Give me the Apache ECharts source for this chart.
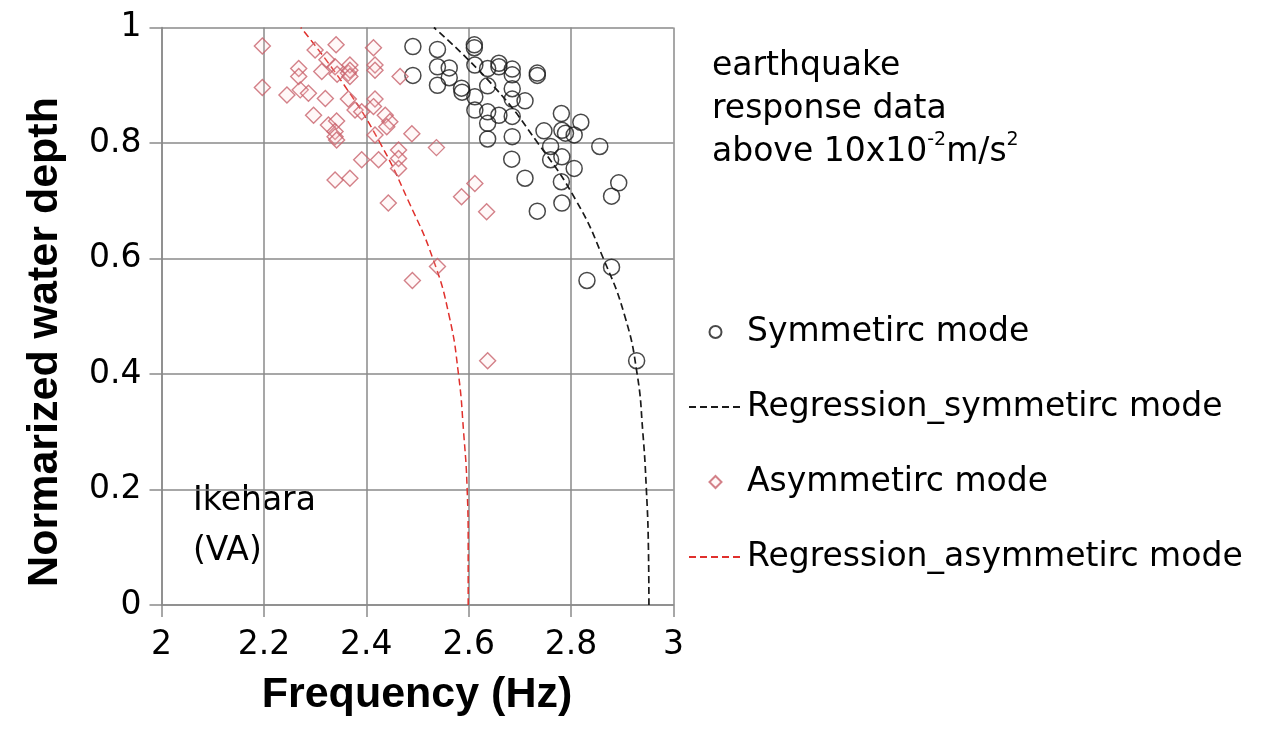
<!DOCTYPE html>
<html>
<head>
<meta charset="utf-8">
<title>Frequency vs normalized water depth</title>
<script src="https://cdn.jsdelivr.net/npm/echarts@6/dist/echarts.min.js"></script>
<style>
  html, body { margin: 0; padding: 0; background: #fff; }
  #chart { width: 1264px; height: 732px; }
</style>
</head>
<body>
<div id="chart"></div>
<script>
// 対称モード (frequency Hz, normalized depth)
const symmetricPoints = [
  [2.491, 0.967], [2.491, 0.917], [2.539, 0.962], [2.611, 0.970], [2.611, 0.965],
  [2.539, 0.932], [2.562, 0.930], [2.539, 0.900], [2.562, 0.913], [2.612, 0.935],
  [2.637, 0.929], [2.659, 0.938], [2.659, 0.932], [2.685, 0.928], [2.685, 0.918],
  [2.734, 0.921], [2.734, 0.917], [2.586, 0.895], [2.587, 0.888], [2.637, 0.899],
  [2.685, 0.894], [2.612, 0.880], [2.685, 0.876], [2.710, 0.873], [2.612, 0.857],
  [2.637, 0.854], [2.659, 0.848], [2.685, 0.846], [2.637, 0.834], [2.637, 0.807],
  [2.685, 0.811], [2.781, 0.851], [2.819, 0.836], [2.747, 0.821], [2.782, 0.822],
  [2.789, 0.817], [2.806, 0.814], [2.856, 0.794], [2.760, 0.794], [2.760, 0.771],
  [2.684, 0.772], [2.782, 0.776], [2.806, 0.756], [2.710, 0.739], [2.781, 0.733],
  [2.893, 0.731], [2.879, 0.708], [2.782, 0.696], [2.734, 0.682], [2.879, 0.585],
  [2.831, 0.562], [2.928, 0.423]
];

// 非対称モード
const asymmetricPoints = [
  [2.197, 0.968], [2.197, 0.896], [2.245, 0.883], [2.268, 0.929], [2.268, 0.915],
  [2.271, 0.892], [2.287, 0.886], [2.300, 0.961], [2.313, 0.924], [2.323, 0.944],
  [2.341, 0.970], [2.339, 0.932], [2.343, 0.919], [2.365, 0.921], [2.368, 0.935],
  [2.368, 0.926], [2.368, 0.915], [2.414, 0.965], [2.417, 0.935], [2.417, 0.926],
  [2.466, 0.915], [2.320, 0.877], [2.365, 0.876], [2.417, 0.876], [2.297, 0.848],
  [2.326, 0.831], [2.342, 0.838], [2.339, 0.820], [2.339, 0.811], [2.342, 0.805],
  [2.378, 0.857], [2.391, 0.854], [2.414, 0.863], [2.437, 0.848], [2.446, 0.837],
  [2.440, 0.828], [2.417, 0.814], [2.489, 0.816], [2.391, 0.771], [2.424, 0.771],
  [2.463, 0.788], [2.463, 0.773], [2.463, 0.756], [2.537, 0.792], [2.339, 0.736],
  [2.368, 0.739], [2.443, 0.696], [2.612, 0.730], [2.586, 0.707], [2.635, 0.681],
  [2.539, 0.586], [2.490, 0.562], [2.637, 0.423]
];

// 回帰曲線 (図から読み取り, y = 0, 0.1, ... 1)
const symRegression = [
  [2.952, 0.0], [2.951, 0.1], [2.947, 0.2], [2.940, 0.3], [2.929, 0.4],
  [2.905, 0.5], [2.863, 0.6], [2.810, 0.7], [2.735, 0.8], [2.647, 0.9],
  [2.532, 1.0]
];
const asymRegression = [
  [2.599, 0.0], [2.599, 0.1], [2.597, 0.2], [2.590, 0.3], [2.580, 0.4],
  [2.562, 0.5], [2.530, 0.6], [2.482, 0.7], [2.427, 0.8], [2.357, 0.9],
  [2.272, 1.0]
];

const seriesNames = ['Symmetirc mode', 'Regression_symmetirc mode', 'Asymmetirc mode', 'Regression_asymmetirc mode'];

const FONT = '"DejaVu Sans", "Liberation Sans", sans-serif';
const BOLD_FONT = '"Liberation Sans", Arial, sans-serif';
const gridColor = '#8a8a8a';

const myChart = echarts.init(document.getElementById('chart'));

const option = {
  animation: false,
  backgroundColor: '#fff',
  grid: { left: 161.5, top: 27.5, width: 512, height: 577.5, containLabel: false },
  xAxis: {
    type: 'value', min: 2, max: 3, interval: 0.2,
    axisLine: { show: true, lineStyle: { color: gridColor, width: 1.5 } },
    axisTick: { show: true, length: 12, lineStyle: { color: gridColor, width: 1.5 } },
    splitLine: { show: true, lineStyle: { color: gridColor, width: 1.5 } },
    axisLabel: { color: '#000', fontSize: 33, fontFamily: FONT, margin: 24, showMinLabel: true, showMaxLabel: true }
  },
  yAxis: {
    type: 'value', min: 0, max: 1, interval: 0.2,
    axisLine: { show: true, lineStyle: { color: gridColor, width: 1.5 } },
    axisTick: { show: true, length: 12, lineStyle: { color: gridColor, width: 1.5 } },
    splitLine: { show: true, lineStyle: { color: gridColor, width: 1.5 } },
    axisLabel: { color: '#000', fontSize: 33, fontFamily: FONT, margin: 20, showMinLabel: true, showMaxLabel: true }
  },
  legend: {
    orient: 'vertical', left: 683, top: 307,
    itemWidth: 53, itemHeight: 12, itemGap: 35,
    selectedMode: false,
    textStyle: { color: '#000', fontSize: 33, fontFamily: FONT, lineHeight: 40 },
    data: [
      { name: seriesNames[0], icon: 'circle' },
      { name: seriesNames[1], itemStyle: { opacity: 0 } },
      { name: seriesNames[2], icon: 'path://M6,0L12,6L6,12L0,6Z' },
      { name: seriesNames[3], itemStyle: { opacity: 0 } }
    ]
  },
  graphic: [
    {
      type: 'text', left: 712, top: 45,
      style: {
        text: 'earthquake\nresponse data\n{a|above 10x10}{s|-2}{a|m/s}{s|2}',
        fill: '#000', font: '33px ' + FONT, lineHeight: 43,
        rich: {
          a: { fontSize: 33, fontFamily: FONT, lineHeight: 43 },
          s: { fontSize: 19, fontFamily: FONT, lineHeight: 43, verticalAlign: 'top' }
        }
      }
    },
    {
      type: 'text', left: 193, top: 476,
      style: { text: 'Ikehara\n(VA)', fill: '#000', font: '33px ' + FONT, lineHeight: 50 }
    },
    {
      type: 'text', x: 45, y: 342, rotation: Math.PI / 2,
      style: {
        text: 'Normarized water depth', fill: '#000', font: 'bold 43px ' + BOLD_FONT,
        align: 'center', verticalAlign: 'middle'
      }
    },
    {
      type: 'text', x: 417, y: 695,
      style: {
        text: 'Frequency (Hz)', fill: '#000', font: 'bold 43px ' + BOLD_FONT,
        align: 'center', verticalAlign: 'middle'
      }
    }
  ],
  series: [
    {
      name: seriesNames[0], type: 'scatter', symbol: 'circle', symbolSize: 16,
      data: symmetricPoints, z: 3,
      itemStyle: { color: 'rgba(255,255,255,0)', borderColor: '#1a1a1a', borderWidth: 1.5 }
    },
    {
      name: seriesNames[1], type: 'line', data: symRegression,
      symbol: 'none', smooth: true, z: 2,
      lineStyle: { color: '#1a1a1a', width: 1.7, type: [7, 4] },
      itemStyle: { color: '#1a1a1a' }
    },
    {
      name: seriesNames[2], type: 'scatter', symbol: 'diamond', symbolSize: 16,
      data: asymmetricPoints, z: 3,
      itemStyle: { color: 'rgba(255,210,210,0.18)', borderColor: '#c8626c', borderWidth: 1.4 }
    },
    {
      name: seriesNames[3], type: 'line', data: asymRegression,
      symbol: 'none', smooth: true, z: 2,
      lineStyle: { color: '#e0302c', width: 1.5, type: [7, 4] },
      itemStyle: { color: '#e0302c' }
    }
  ]
};

myChart.setOption(option);
</script>
</body>
</html>
